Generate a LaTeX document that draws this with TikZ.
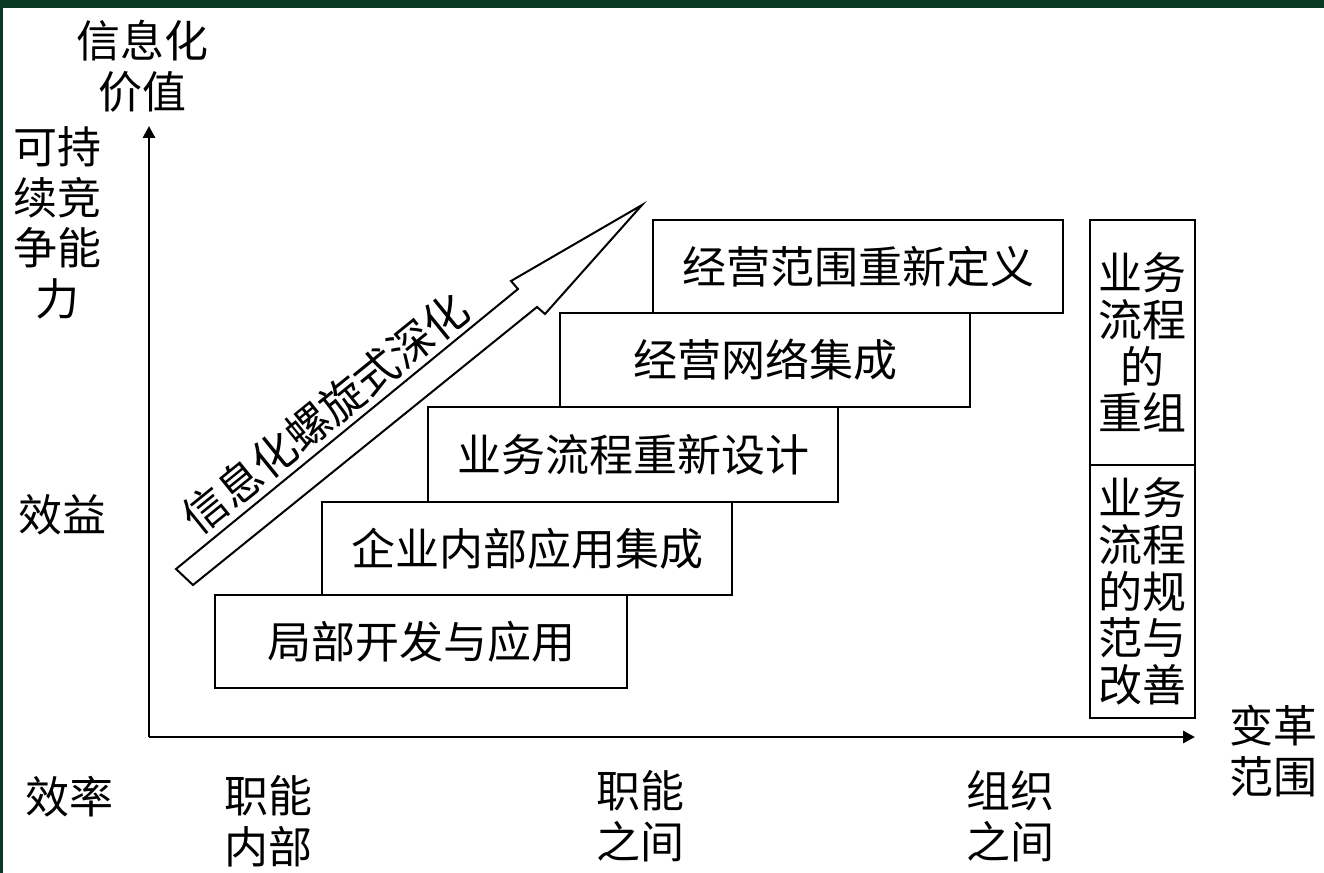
\documentclass[tikz,border=0pt]{standalone}
\usepackage{fontspec}
\newfontfamily\cjk{Noto Sans CJK SC}
\usetikzlibrary{arrows.meta}
\definecolor{framegreen}{RGB}{8,58,36}
\begin{document}
\begin{tikzpicture}[x=0.75pt,y=-0.75pt,
  cjkfont/.style={font=\cjk\fontsize{33}{35}\selectfont},
  stepbox/.style={draw, line width=1.5pt, cjkfont, inner sep=0pt, align=center},
  lbl/.style={font=\cjk\fontsize{33}{38}\selectfont, align=center, inner sep=0pt},
  axis/.style={line width=2.2pt, -{Triangle[length=9pt,width=9pt]}}]
\useasboundingbox (0,0) rectangle (1324,873);
\fill[white] (0,0) rectangle (1324,873);
\fill[framegreen] (0,0) rectangle (1324,8);
\fill[framegreen] (0,0) rectangle (3,873);

% axes
\coordinate (o) at (149,737);
\coordinate (ytip) at (149,126);
\coordinate (xtip) at (1195,737);
\draw[axis] (o) -- (ytip);
\draw[axis] (o) -- (xtip);

% staircase boxes
\node[stepbox, minimum width={412*0.75pt}, minimum height={93*0.75pt}] (b1) at (421,641.5) {局部开发与应用};
\node[stepbox, minimum width={410*0.75pt}, minimum height={93*0.75pt}] (b2) at (527,548.5) {企业内部应用集成};
\node[stepbox, minimum width={410*0.75pt}, minimum height={95*0.75pt}] (b3) at (633,454.5) {业务流程重新设计};
\node[stepbox, minimum width={410*0.75pt}, minimum height={94*0.75pt}] (b4) at (765,360) {经营网络集成};
\node[stepbox, minimum width={410*0.75pt}, minimum height={93*0.75pt}] (b5) at (858,266.5) {经营范围重新定义};

% right column
\node[stepbox, minimum width={105*0.75pt}, minimum height={245*0.75pt}] (r1) at (1142.5,342.5) {业务\\流程\\的\\重组};
\node[stepbox, minimum width={105*0.75pt}, minimum height={253*0.75pt}] (r2) at (1142.5,591.5) {业务\\流程\\的规\\范与\\改善};

% big arrow
\draw[line width=1.5pt, line join=miter, fill=white]
  (176,569) -- (518,289) -- (511,281) -- (642,205) -- (545,314) -- (537,307) -- (193,585) -- cycle;
\node[lbl, rotate=39] (spiral) at (325,413) {信息化螺旋式深化};

% labels
\node[lbl] (yl) at (142,66) {信息化\\价值};
\node[lbl] (sus) at (57,223) {可持\\续竞\\争能\\力};
\node[lbl] (xy) at (62,515) {效益};
\node[lbl] (xl) at (70,797) {效率};
\node[lbl] (zn1) at (268,821) {职能\\内部};
\node[lbl] (zn2) at (640,816) {职能\\之间};
\node[lbl] (zz) at (1010,816) {组织\\之间};
\node[lbl] (bg) at (1273,751) {变革\\范围};
\end{tikzpicture}
\end{document}
